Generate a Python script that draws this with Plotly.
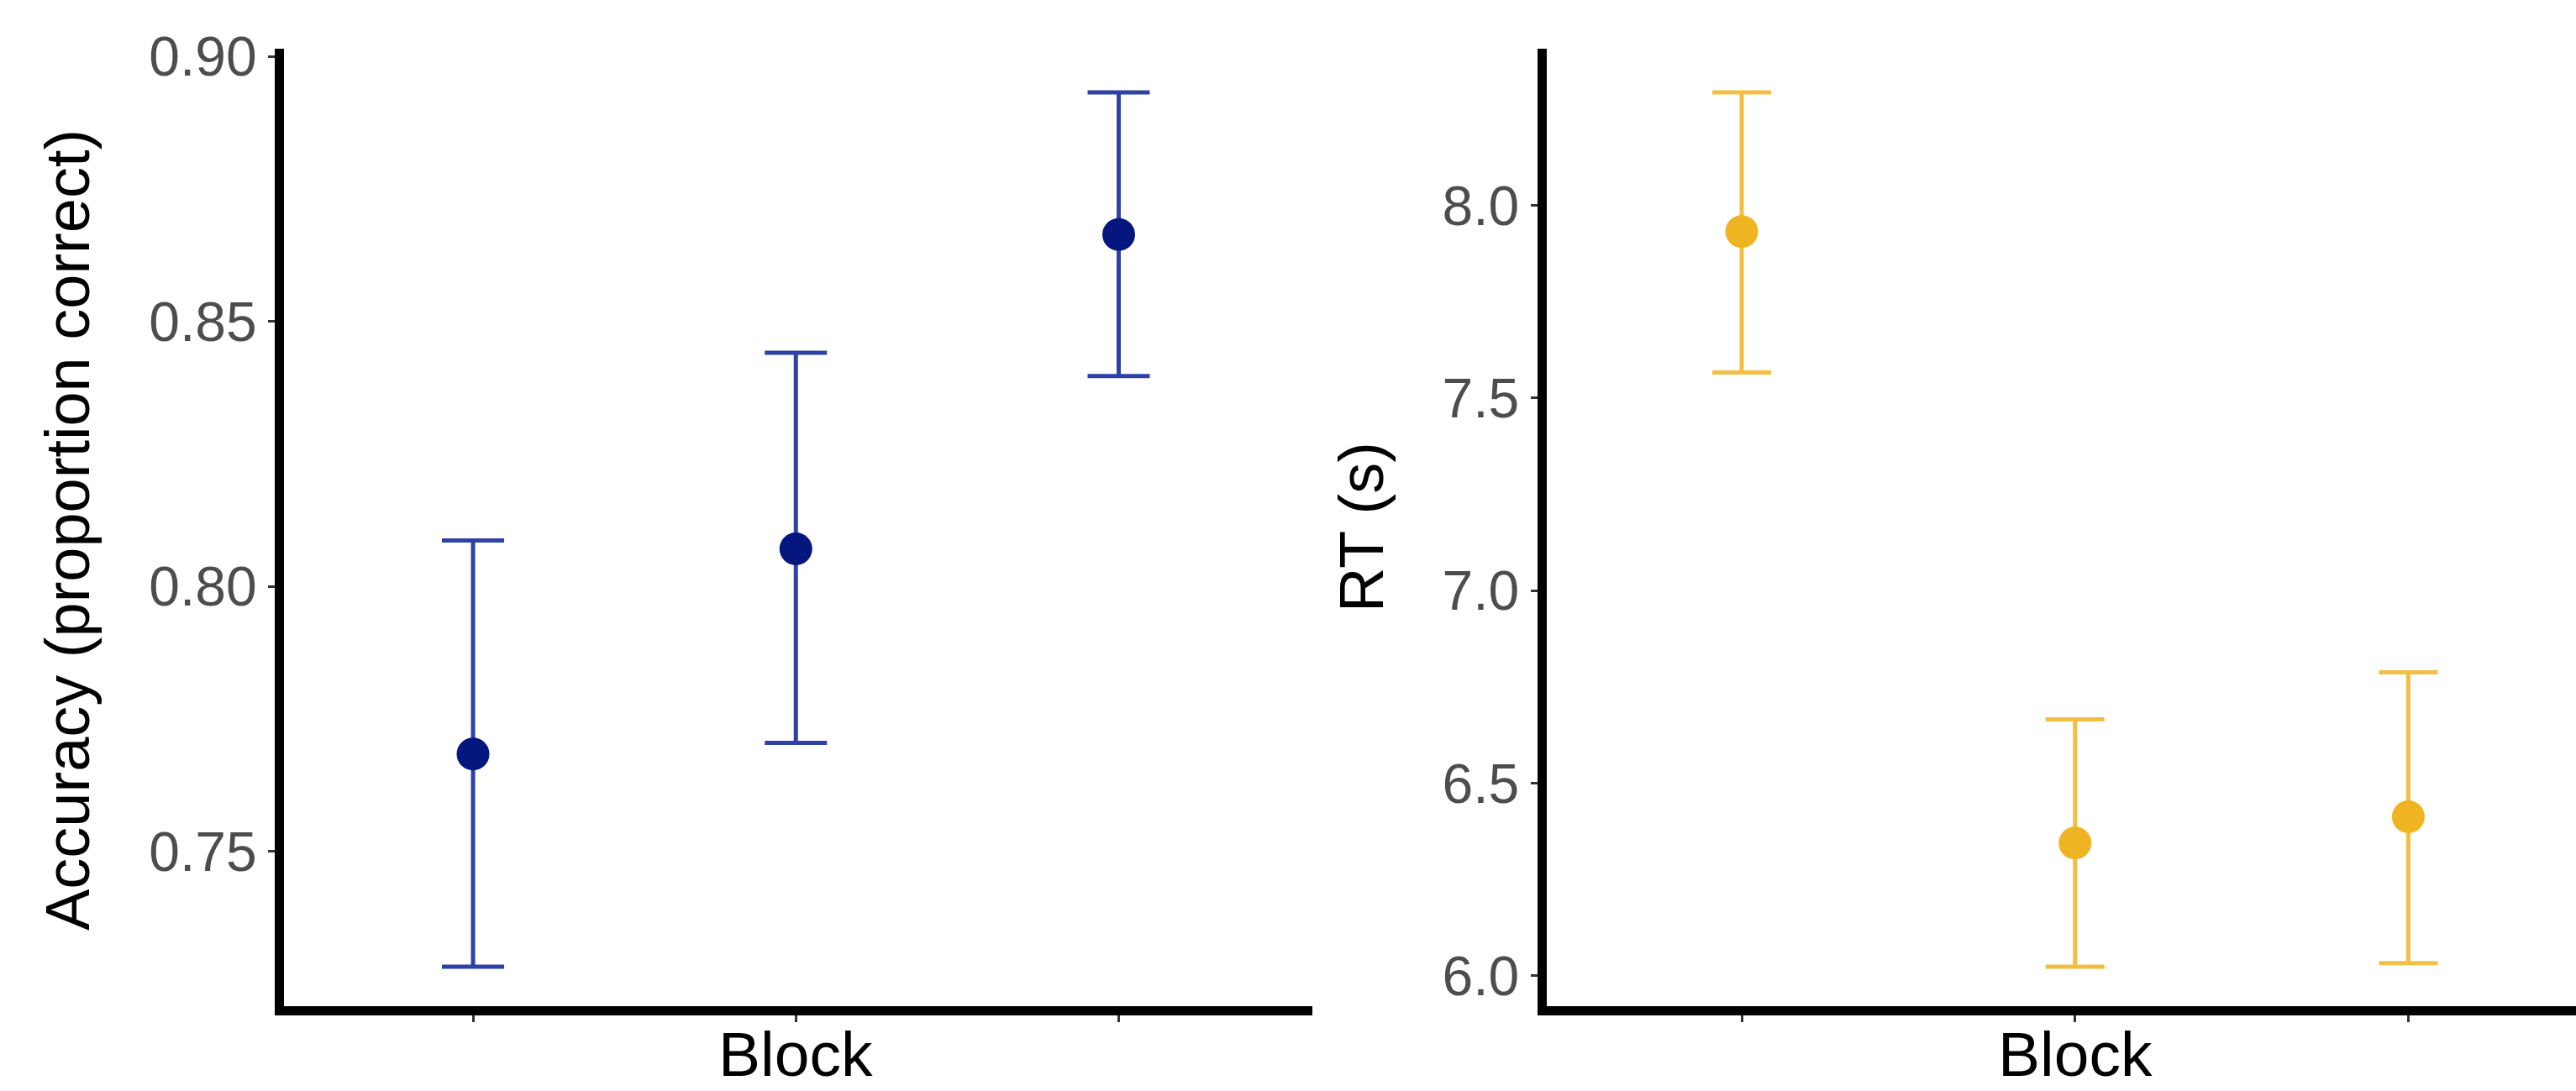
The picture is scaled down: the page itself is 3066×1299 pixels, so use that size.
import plotly.graph_objects as go

# ---- data ----
blocks = [1, 2, 3]
acc_mean = [0.7684, 0.8071, 0.8664]
acc_upper = [0.8087, 0.8441, 0.8932]
acc_lower = [0.7283, 0.7705, 0.8397]
rt_mean = [7.932, 6.345, 6.413]
rt_upper = [8.293, 6.666, 6.788]
rt_lower = [7.566, 6.024, 6.033]
acc_ticks = [0.75, 0.80, 0.85, 0.90]
rt_ticks = [6.0, 6.5, 7.0, 7.5, 8.0]

W, H = 3066, 1299
BLUE = "#06167F"
BLUE_BAR = "rgba(10,30,150,0.85)"
GOLD = "#EEB422"
GOLD_BAR = "rgba(238,180,34,0.85)"
FONT = "Liberation Sans, Arial, Helvetica, sans-serif"
LW = 11  # axis line width

# panel geometry in pixels (line centres)
TOP, BOT = 58, 1203
L1, R1 = 332.5, 1562
L2, R2 = 1835, 3066


def expand(lo, hi, f=0.05):
    d = (hi - lo) * f
    return lo - d, hi + d


def yrange(lo, hi):
    lo, hi = expand(lo, hi)
    # plot area ends at line inner edge
    return [lo + (hi - lo) * (LW / 2) / (BOT - TOP), hi]


fig = go.Figure()
fig.add_trace(go.Scatter(
    x=blocks, y=acc_mean, mode="markers",
    marker=dict(color=BLUE, size=39),
    error_y=dict(type="data", symmetric=False,
                 array=[u - m for u, m in zip(acc_upper, acc_mean)],
                 arrayminus=[m - l for m, l in zip(acc_mean, acc_lower)],
                 color=BLUE_BAR, thickness=5, width=37),
    xaxis="x", yaxis="y", showlegend=False, cliponaxis=False))
fig.add_trace(go.Scatter(
    x=blocks, y=rt_mean, mode="markers",
    marker=dict(color=GOLD, size=39),
    error_y=dict(type="data", symmetric=False,
                 array=[u - m for u, m in zip(rt_upper, rt_mean)],
                 arrayminus=[m - l for m, l in zip(rt_mean, rt_lower)],
                 color=GOLD_BAR, thickness=5, width=35),
    xaxis="x2", yaxis="y2", showlegend=False, cliponaxis=False))

ytop = (H - TOP) / H
ybot = (H - (BOT - LW / 2)) / H

common_x = dict(showgrid=False, zeroline=False, showline=True, linecolor="black",
                linewidth=LW, ticks="outside", ticklen=8, tickwidth=3,
                tickcolor="#333333", tickvals=blocks, showticklabels=False,
                fixedrange=True, automargin=False)
common_y = dict(showgrid=False, zeroline=False, showline=True, linecolor="black",
                linewidth=LW, ticks="outside", ticklen=8, tickwidth=3,
                tickcolor="#333333",
                tickfont=dict(family=FONT, size=66, color="#4D4D4D"),
                fixedrange=True, automargin=False)

# x ranges: 0.6 category expansion on the left; right panel is cut by the image edge
px1 = (R1 - L1) / 3.2
px2 = 396.7
x1_range = [0.4 + (LW / 2) / px1, 3.6]
x2_range = [0.4 + (LW / 2) / px2, 0.4 + (R2 - L2) / px2]

fig.update_layout(
    width=W, height=H,
    margin=dict(l=0, r=0, t=0, b=0, autoexpand=False),
    paper_bgcolor="white", plot_bgcolor="white",
    xaxis=dict(domain=[(L1 + LW / 2) / W, R1 / W], range=x1_range, anchor="y", **common_x),
    yaxis=dict(domain=[ybot, ytop], anchor="x",
               range=yrange(min(acc_lower), max(acc_upper)),
               tickvals=acc_ticks, tickformat=".2f", **common_y),
    xaxis2=dict(domain=[(L2 + LW / 2) / W, 1.0], range=x2_range, anchor="y2", **common_x),
    yaxis2=dict(domain=[ybot, ytop], anchor="x2",
                range=yrange(min(rt_lower), max(rt_upper)),
                tickvals=rt_ticks, tickformat=".1f", **common_y),
    annotations=[
        dict(text="Accuracy (proportion correct)", textangle=-90,
             x=80 / W, y=(H - 631) / H, xref="paper", yref="paper",
             xanchor="center", yanchor="middle", showarrow=False,
             font=dict(family=FONT, size=74, color="black")),
        dict(text="RT (s)", textangle=-90,
             x=1620 / W, y=(H - 628) / H, xref="paper", yref="paper",
             xanchor="center", yanchor="middle", showarrow=False,
             font=dict(family=FONT, size=74, color="black")),
        dict(text="Block", x=2, y=(H - 1255) / H, xref="x", yref="paper",
             xanchor="center", yanchor="middle", showarrow=False,
             font=dict(family=FONT, size=75, color="black")),
        dict(text="Block", x=2, y=(H - 1255) / H, xref="x2", yref="paper",
             xanchor="center", yanchor="middle", showarrow=False,
             font=dict(family=FONT, size=75, color="black")),
    ],
)

fig.write_html("out.html", config={"displayModeBar": False},
               post_script="document.body.style.margin='0';")
